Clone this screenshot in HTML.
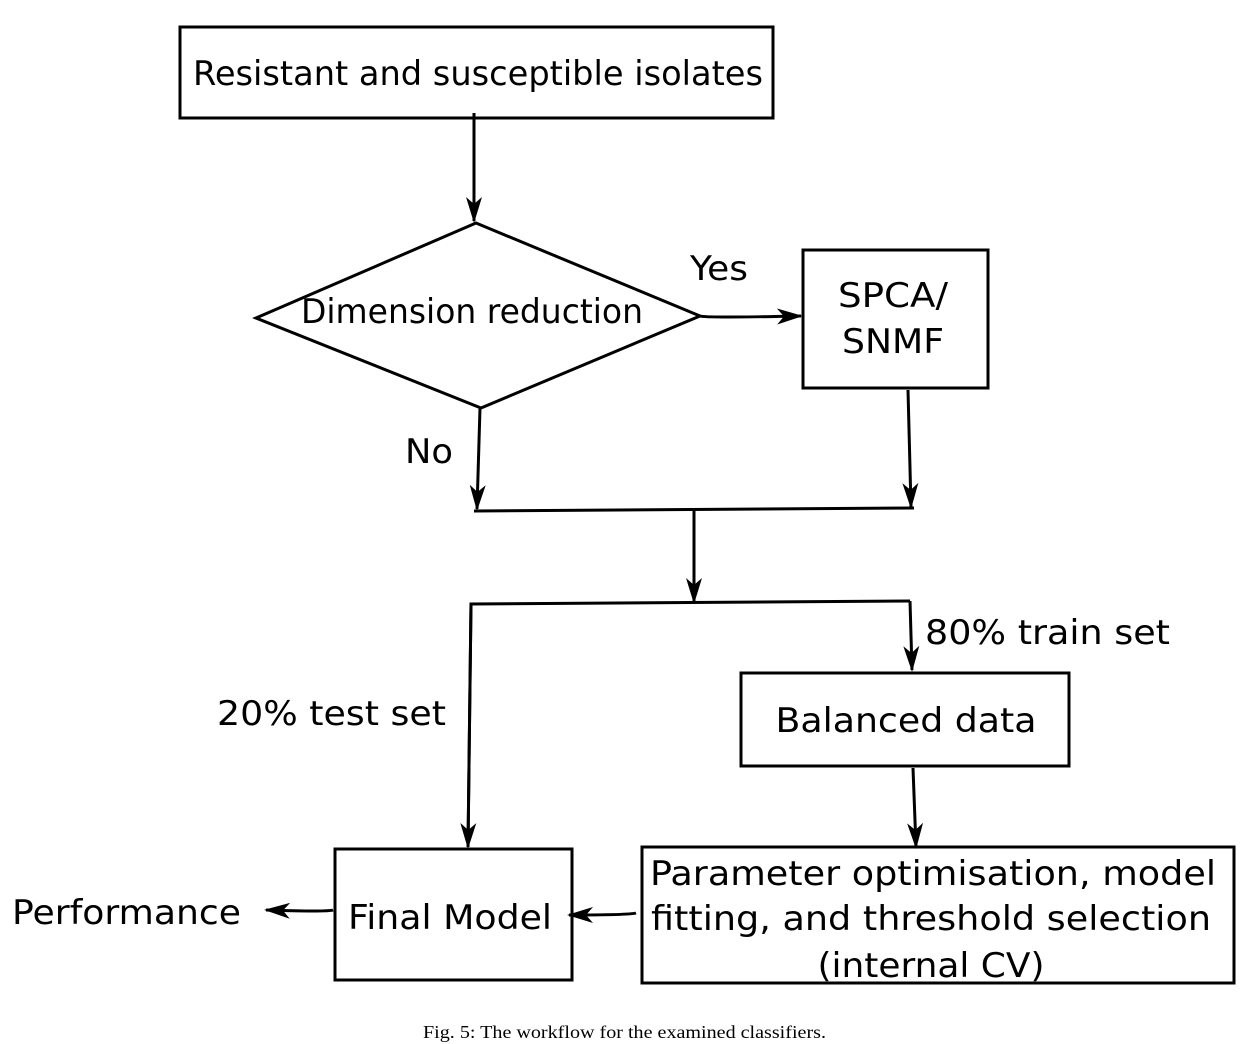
<!DOCTYPE html>
<html><head><style>
html,body{margin:0;padding:0;background:#fff;}
svg{display:block;}
text{font-family:"DejaVu Sans","Liberation Sans",sans-serif;fill:#000;}
</style></head><body>
<svg width="1258" height="1044" viewBox="0 0 1258 1044" xmlns="http://www.w3.org/2000/svg">
<defs>
<marker id="a" viewBox="0 0 26 16" refX="24" refY="8" markerWidth="26" markerHeight="16" markerUnits="userSpaceOnUse" orient="auto">
<path d="M0,0 L26,8 L0,16 L7,8 Z" fill="#000"/>
</marker>
</defs>
<g fill="none" stroke="#000" stroke-width="3">
<rect x="180" y="27" width="593" height="91"/>
<polygon points="256,318 476,223 700,316 481,408"/>
<rect x="803" y="250" width="185" height="138"/>
<rect x="741" y="673" width="328" height="93"/>
<rect x="642" y="847" width="592" height="136"/>
<rect x="335" y="849" width="237" height="131"/>
<line x1="474" y1="113" x2="474" y2="221" marker-end="url(#a)"/>
<path d="M700,316 Q705,318 801,316" marker-end="url(#a)"/>
<line x1="480" y1="408" x2="477" y2="509" marker-end="url(#a)"/>
<line x1="908" y1="390" x2="911" y2="507" marker-end="url(#a)"/>
<line x1="474" y1="511" x2="914" y2="508"/>
<line x1="694" y1="511" x2="694" y2="602" marker-end="url(#a)"/>
<polyline points="468,846 471,604 910,601"/>
<line x1="471" y1="604" x2="468" y2="847" marker-end="url(#a)"/>
<line x1="910" y1="601" x2="912" y2="670" marker-end="url(#a)"/>
<line x1="913" y1="768" x2="916" y2="847" marker-end="url(#a)"/>
<path d="M636,913 Q630,915 569,915" marker-end="url(#a)"/>
<path d="M333,910 Q328,912 266,910" marker-end="url(#a)"/>
</g>
<g font-size="34" text-anchor="middle">
<text x="478" y="85" textLength="570" lengthAdjust="spacingAndGlyphs">Resistant and susceptible isolates</text>
<text x="472" y="323" textLength="342" lengthAdjust="spacingAndGlyphs">Dimension reduction</text>
<text x="719" y="280" textLength="58" lengthAdjust="spacingAndGlyphs">Yes</text>
<text x="893" y="307" textLength="110" lengthAdjust="spacingAndGlyphs">SPCA/</text>
<text x="893" y="353" textLength="102" lengthAdjust="spacingAndGlyphs">SNMF</text>
<text x="429" y="463" textLength="48" lengthAdjust="spacingAndGlyphs">No</text>
<text x="906" y="732" textLength="261" lengthAdjust="spacingAndGlyphs">Balanced data</text>
<text x="933" y="885" textLength="566" lengthAdjust="spacingAndGlyphs">Parameter optimisation, model</text>
<text x="931" y="930" textLength="560" lengthAdjust="spacingAndGlyphs">fitting, and threshold selection</text>
<text x="931" y="977" textLength="227" lengthAdjust="spacingAndGlyphs">(internal CV)</text>
<text x="450" y="929" textLength="204" lengthAdjust="spacingAndGlyphs">Final Model</text>
</g>
<g font-size="34">
<text x="925" y="644" textLength="245" lengthAdjust="spacingAndGlyphs">80% train set</text>
<text x="217" y="725" textLength="229" lengthAdjust="spacingAndGlyphs">20% test set</text>
<text x="12" y="924" textLength="229" lengthAdjust="spacingAndGlyphs">Performance</text>
</g>
<text x="423" y="1038" font-size="18" textLength="403" lengthAdjust="spacingAndGlyphs" style="font-family:'Liberation Serif',serif">Fig. 5: The workflow for the examined classifiers.</text>
</svg>
</body></html>
